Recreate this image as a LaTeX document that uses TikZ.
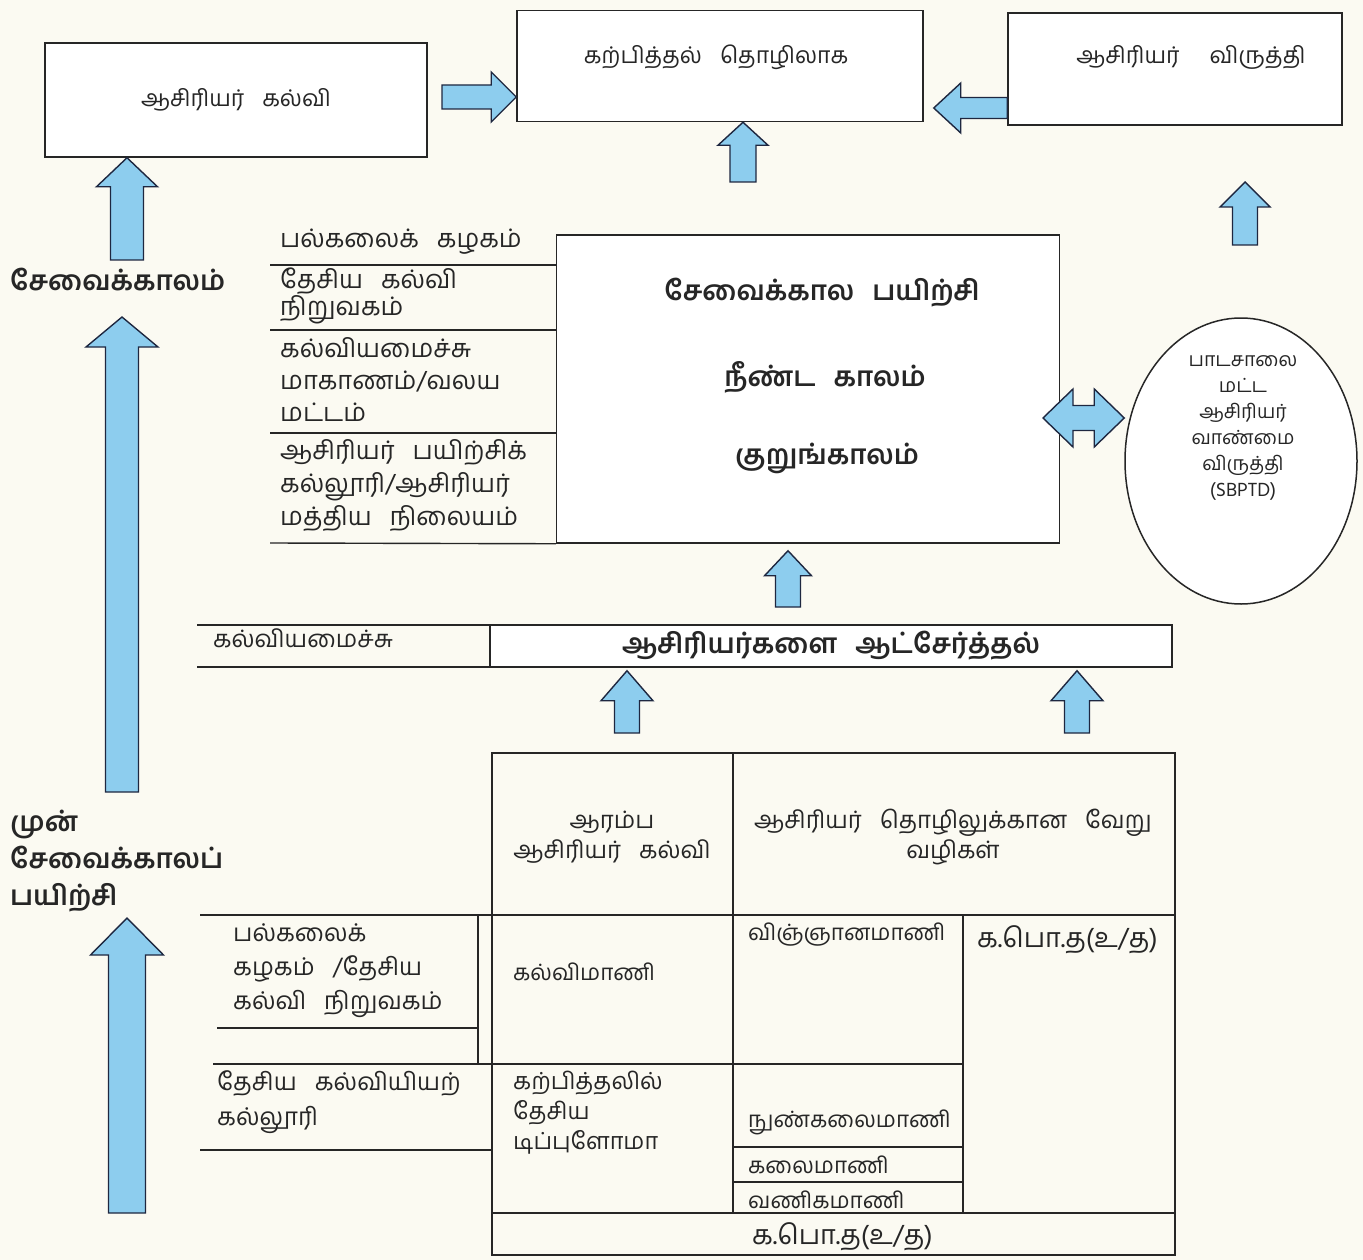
\documentclass[tikz,border=0pt]{standalone}
\usepackage{fontspec}
\setmainfont[Script=Tamil]{Hind Madurai}
\usetikzlibrary{calc,positioning,shapes.geometric}
\definecolor{paper}{HTML}{FBFAF2}
\definecolor{skyfill}{HTML}{8DCDEE}
\definecolor{navyline}{HTML}{1E2740}
\definecolor{inkgray}{HTML}{262626}

\newcommand{\wsp}{\hspace{18pt}}

\tikzset{
  box/.style={draw=inkgray, fill=white, line width=1.5pt, text=inkgray,
    font=\fontsize{23}{30}\selectfont},
  barrow/.style={draw=navyline, fill=skyfill, line width=1.4pt, line join=miter},
  lbl/.style={text=inkgray, inner sep=0pt, font=\fontsize{23}{31}\selectfont},
  boldlbl/.style={lbl, font=\fontsize{27.5}{38}\selectfont\bfseries},
  rule/.style={draw=inkgray, line width=1.4pt},
}

% block arrow: tail, tip, half shaft, half head, head length
\newcommand{\blockarr}[5]{%
  \coordinate (ba-b) at ($(#2)!#5!(#1)$);
  \draw[barrow] ($(#1)!#3!90:(#2)$) -- ($(ba-b)!#3!90:(#2)$) -- ($(ba-b)!#4!90:(#2)$)
    -- (#2) -- ($(ba-b)!#4!-90:(#2)$) -- ($(ba-b)!#3!-90:(#2)$)
    -- ($(#1)!#3!-90:(#2)$) -- cycle;}
% double block arrow: tip, tip, half shaft, half head, head length
\newcommand{\dblarr}[5]{%
  \coordinate (da-a) at ($(#1)!#5!(#2)$);
  \coordinate (da-b) at ($(#2)!#5!(#1)$);
  \draw[barrow] (#1) -- ($(da-a)!#4!90:(#2)$) -- ($(da-a)!#3!90:(#2)$)
    -- ($(da-b)!#3!-90:(#1)$) -- ($(da-b)!#4!-90:(#1)$) -- (#2)
    -- ($(da-b)!#4!90:(#1)$) -- ($(da-b)!#3!90:(#1)$)
    -- ($(da-a)!#3!-90:(#2)$) -- ($(da-a)!#4!-90:(#2)$) -- cycle;}

\begin{document}
\begin{tikzpicture}[x=1pt,y=-1pt]
  \fill[paper] (0,0) rectangle (1363,1260);
  \useasboundingbox (0,0) rectangle (1363,1260);

  % top row
  \node[box, minimum width=382pt, minimum height=114pt] (tedu) at (236,100) {ஆசிரியர்\wsp கல்வி};
  \node[box, minimum width=406pt, minimum height=111pt] (tprof) at (720,66) {};
  \node[lbl] (tproftxt) at (716,57) {கற்பித்தல்\wsp தொழிலாக};
  \node[box, minimum width=334pt, minimum height=112pt] (tdev) at (1175,69) {};
  \node[lbl] (tdevtxt) at (1191,57) {ஆசிரியர்\hspace{30pt}விருத்தி};

  \coordinate (a1tail) at (442,97);
  \blockarr{a1tail}{tprof.west |- a1tail}{12pt}{25pt}{25pt}
  \coordinate (a2tail) at (tdev.west |- 0,108);
  \coordinate (a2tip) at ($(tprof.east |- a2tail)+(10,0)$);
  \blockarr{a2tail}{a2tip}{10.5pt}{25pt}{27pt}
  \coordinate (a3tail) at (743,182);
  \blockarr{a3tail}{a3tail |- tprof.south}{13pt}{25pt}{23pt}
  \coordinate (a4tail) at (1245,245);
  \coordinate (a4tip) at (1245,182);
  \blockarr{a4tail}{a4tip}{12.5pt}{25pt}{25pt}
  \coordinate (a5tail) at (127,260);
  \blockarr{a5tail}{a5tail |- tedu.south}{16.5pt}{30.5pt}{29pt}

  % left column
  \node[boldlbl, anchor=west] (inlbl) at (10,280) {சேவைக்காலம்};
  \coordinate (a6tail) at (122,792);
  \coordinate (a6tip) at (122,317);
  \blockarr{a6tail}{a6tip}{16.5pt}{36pt}{30pt}
  \node[boldlbl, anchor=west, align=left, font=\fontsize{27.5}{37}\selectfont\bfseries] (prelbl) at (10,861)
    {முன்\\சேவைக்காலப்\\பயிற்சி};
  \coordinate (a7tail) at (127,1213);
  \coordinate (a7tip) at (127,918);
  \blockarr{a7tail}{a7tip}{18.5pt}{36.5pt}{37pt}

  % in-service block
  \node[box, minimum width=503pt, minimum height=308pt] (inservice) at (808,389) {};
  \node[boldlbl] (istitle) at (822,293) {சேவைக்கால\wsp பயிற்சி};
  \node[boldlbl] (islong) at (825,377) {நீண்ட\wsp காலம்};
  \node[boldlbl] (isshort) at (827,458) {குறுங்காலம்};

  \node[lbl, anchor=west, font=\fontsize{25.5}{31}\selectfont] (uni) at (280,242) {பல்கலைக்\wsp கழகம்};
  \node[lbl, anchor=west, align=left, font=\fontsize{25.5}{27}\selectfont] (nie) at (280,296) {தேசிய\wsp கல்வி\\நிறுவகம்};
  \node[lbl, anchor=west, align=left, font=\fontsize{25.5}{32}\selectfont] (moe) at (280,380) {கல்வியமைச்சு\\மாகாணம்/வலய\\மட்டம்};
  \node[lbl, anchor=west, align=left, font=\fontsize{25.5}{33}\selectfont] (ttc) at (280,485) {ஆசிரியர்\wsp பயிற்சிக்\\கல்லூரி/ஆசிரியர்\\மத்திய\wsp நிலையம்};
  \draw[rule] (270,265) -- (inservice.west |- 0,265);
  \draw[rule] (270,330) -- (inservice.west |- 0,330);
  \draw[rule] (270,433) -- (inservice.west |- 0,433);
  \draw[rule] (270,543) -- (inservice.south west);

  \node[draw=inkgray, fill=white, line width=1.5pt, ellipse, minimum width=232pt, minimum height=286pt] (sbptd) at (1241,461) {};
  \node[lbl, align=center, font=\fontsize{19.5}{26}\selectfont] (sbptdtxt) at (1243,428)
    {பாடசாலை\\மட்ட\\ஆசிரியர்\\வாண்மை\\விருத்தி\\(SBPTD)};
  \coordinate (dbl) at (1043,418);
  \dblarr{dbl}{sbptd.west |- dbl}{12.5pt}{29pt}{30pt}

  % recruitment row
  \draw[rule] (197,625) -- (490,625);
  \draw[rule] (197,667) -- (490,667);
  \node[lbl, anchor=west, font=\fontsize{24}{30}\selectfont] (recmin) at (213,638) {கல்வியமைச்சு};
  \node[box, minimum width=682pt, minimum height=42pt, font=\fontsize{27.5}{30}\selectfont\bfseries] (recruit) at (831,646) {ஆசிரியர்களை\wsp ஆட்சேர்த்தல்};

  \coordinate (a8tail) at (788,607);
  \blockarr{a8tail}{$(a8tail |- inservice.south)+(0,7)$}{12.5pt}{23.5pt}{25pt}
  \coordinate (a9tail) at (627,733);
  \blockarr{a9tail}{$(a9tail |- recruit.south)+(0,3)$}{12.5pt}{26pt}{30pt}
  \coordinate (a10tail) at (1077,733);
  \blockarr{a10tail}{$(a10tail |- recruit.south)+(0,3)$}{12.5pt}{26pt}{30pt}

  % pre-service table
  \draw[rule] (492,753) rectangle (1175,1255);
  \draw[rule] (200,915) -- (1175,915);
  \draw[rule] (733,753) -- (733,1213);
  \draw[rule] (963,915) -- (963,1213);
  \draw[rule] (213,1064) -- (963,1064);
  \draw[rule] (733,1147) -- (963,1147);
  \draw[rule] (733,1182) -- (963,1182);
  \draw[rule] (492,1213) -- (1175,1213);
  \draw[rule] (478,915) -- (478,1064);
  \draw[rule] (217,1028) -- (478,1028);
  \draw[rule] (200,1150) -- (492,1150);

  \node[lbl, align=center, font=\fontsize{24}{30}\selectfont] (hdrl) at (612,837) {ஆரம்ப\\ஆசிரியர்\wsp கல்வி};
  \node[lbl, align=center, font=\fontsize{24}{30}\selectfont] (hdrr) at (953,837) {ஆசிரியர்\wsp தொழிலுக்கான\wsp வேறு\\வழிகள்};
  \node[lbl, anchor=west, align=left, font=\fontsize{24.5}{34}\selectfont] (unilbl) at (233,971) {பல்கலைக்\\கழகம்\wsp /தேசிய\\கல்வி\wsp நிறுவகம்};
  \node[lbl, anchor=west, align=left, font=\fontsize{24.5}{35}\selectfont] (ncoe) at (217,1102) {தேசிய\wsp கல்வியியற்\\கல்லூரி};
  \node[lbl, anchor=west, font=\fontsize{22.5}{30}\selectfont] (bed) at (513,972) {கல்விமாணி};
  \node[lbl, anchor=west, align=left, font=\fontsize{23.5}{30}\selectfont] (ntd) at (513,1113) {கற்பித்தலில்\\தேசிய\\டிப்புளோமா};
  \node[lbl, anchor=west, font=\fontsize{22.5}{30}\selectfont] (bsc) at (748,935) {விஞ்ஞானமாணி};
  \node[lbl, anchor=west, font=\fontsize{27}{30}\selectfont] (alright) at (977,940) {க.பொ.த(உ/த)};
  \node[lbl, anchor=west, font=\fontsize{22.5}{30}\selectfont] (bfa) at (748,1122) {நுண்கலைமாணி};
  \node[lbl, anchor=west, font=\fontsize{22.5}{30}\selectfont] (ba) at (748,1165) {கலைமாணி};
  \node[lbl, anchor=west, font=\fontsize{22.5}{30}\selectfont] (bcom) at (748,1200) {வணிகமாணி};
  \node[lbl, anchor=west, font=\fontsize{27}{30}\selectfont] (albottom) at (752,1237) {க.பொ.த(உ/த)};
\end{tikzpicture}
\end{document}
